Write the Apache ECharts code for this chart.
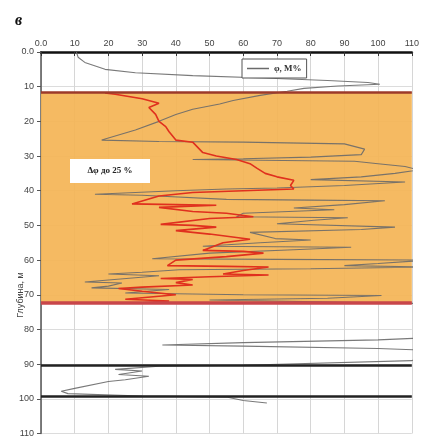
<!DOCTYPE html>
<html><head><meta charset="utf-8">
<script src="https://cdn.jsdelivr.net/npm/echarts@6/dist/echarts.min.js"></script>
<style>html,body{margin:0;padding:0;background:#fff}#c{width:422px;height:438px}</style>
</head><body><div id="c"></div>
<script>
// ---- data ----
const xTicks = [0,10,20,30,40,50,60,70,80,90,100,110];
const yTicks = [0,10,20,30,40,50,60,70,80,90,100,110];
const legendName = 'φ, М%';
const noteText = 'Δφ до 25 %';
const panelLetter = 'в';
const yName = 'Глубина, м';
const bandDepths = [11.6, 72.3];
const markerDepths = [90.4, 99.4];

const phiValues = [10.5,11,13,19,28,45,66,85,97,100.5,88,78,73,
 65,57,53,45,40,35,28,18,35,60,90,96,95,80,60,45,65,93,100,108,112,105,95,80,108,90,70,55,40,16,30,55,80,102,90,75,87,60,58,91,81,70,105,95,62,69.5,80,65,48,92,75,50,33,70,115,100,90,115,80,41,30,20,35,13,24,20,15,38,25,60,101,85,50,112,
 120,112,100,60,36,60,100,115,115,110,60,35,22,30,23,32,25,20,10,6,8,30,55,60,67];
const phiDepths = [0,1.5,3,5,6,6.8,7.5,8.2,8.8,9.3,9.8,10.5,11.3,
 12.5,14,15,16.5,18,20,22.5,25.4,25.8,26,26.5,28,29.6,30.3,30.8,31,31.2,31.5,32.2,33,34,35,36,36.8,37.5,38.5,39.2,39.5,40,41,41.3,42.5,42.7,42.9,44,45,45.5,46.5,47.5,47.8,48.5,49.5,50.5,51.2,52,53.8,54.2,55,56,56.3,57,58,59.6,59.8,60,61,61.6,62,62.5,62.8,63.5,64,64.5,66.3,66.6,67.5,68,68.5,69.5,70,70.2,71,71.5,72.5,
 80,82.5,83,83.8,84.5,84.8,85.5,86,87,89,90.3,90.6,91.5,92,93,93.5,94.5,95,97,97.8,98.5,99.2,99.5,100.5,101.2];

const redValues = [19,22,30,35,32,34,35,37,38,40,45,48,52,58,62,64,66.5,70,75,74,75,60,45,35,27,40,52,35,45,55,63,50,35.5,45,52,40,50,58,62,54,48,60,66,55,40,37.5,55,67.5,60,54,67.5,50,35.5,45,40,45,30,23,30,40,25,38,30];
const redDepths = [11.8,12.2,13.5,14.8,16,18,20,21.5,23,25.4,26,29,30,31,32.2,33.5,35,36,37,38.5,39.5,40,40.5,41.5,43.8,44,44.2,44.8,46,46.5,47.5,48,49.7,50,50.5,51.5,52.5,53.5,54,55,57.2,57.5,58,59,60,61.6,61.8,62,63,64,64.3,64.8,65.3,65.6,66.5,67.2,67.8,68.2,69,70,71.3,71.8,72.3];

const phiData = phiValues.map((v,i)=>[v, phiDepths[i]]);
const redData = redValues.map((v,i)=>[v, redDepths[i]]);

const chart = echarts.init(document.getElementById('c'));
const lbl = {fontSize:9, color:'#444', fontFamily:'Liberation Sans'};
chart.setOption({
  animation:false,
  grid:{left:41,right:3,top:52,bottom:-3,containLabel:false},
  legend:{data:[legendName], left:242, top:59, padding:[5,5], itemWidth:22, itemHeight:1.5, icon:'rect',
    backgroundColor:'#fff', borderColor:'#555', borderWidth:1, borderRadius:0,
    textStyle:{fontSize:9, fontWeight:'bold', color:'#333', fontFamily:'Liberation Serif'}},
  xAxis:{type:'value', position:'top', min:0, max:110, interval:10,
    axisLine:{lineStyle:{color:'#111', width:2.5}},
    axisTick:{inside:true, length:4, lineStyle:{color:'#333'}},
    axisLabel:Object.assign({margin:4, formatter:v=> v===0?'0.0':String(v)}, lbl),
    splitLine:{show:true, lineStyle:{color:'#d6d6d6', width:1}}},
  yAxis:{type:'value', inverse:true, min:0, max:110, interval:10,
    axisLine:{show:true, lineStyle:{color:'#555', width:1.5}},
    axisTick:{show:true, length:4, lineStyle:{color:'#555'}},
    axisLabel:Object.assign({margin:7, formatter:v=> v===0?'0.0':String(v)}, lbl),
    splitLine:{show:true, lineStyle:{color:'#dcdcdc', width:1}}},
  graphic:[
    {type:'text', left:15, top:13, style:{text:panelLetter, font:'italic bold 16px "Liberation Serif"', fill:'#111'}},
    {type:'text', x:21, y:295, rotation:Math.PI/2, style:{text:yName, font:'9px "Liberation Sans"', fill:'#444', align:'center', verticalAlign:'middle'}},
    {type:'rect', left:70, top:159, z:100, zlevel:1, shape:{width:80,height:24}, style:{fill:'#fff'}},
    {type:'text', x:110, y:171, z:101, zlevel:1, style:{text:noteText, font:'bold 9px "Liberation Serif"', fill:'#222', align:'center', verticalAlign:'middle'}}
  ],
  series:[
    {name:'band', type:'line', data:[], z:1, silent:true,
      markArea:{silent:true, itemStyle:{color:'#F4B556', opacity:0.93},
        data:[[{yAxis:bandDepths[0]},{yAxis:bandDepths[1]}]]},
      markLine:{silent:true, symbol:'none', label:{show:false},
        data:[
          {yAxis:bandDepths[0], lineStyle:{color:'#9c3a2a', width:2.5, type:'solid'}},
          {yAxis:bandDepths[1], lineStyle:{color:'#c8464a', width:3.5, type:'solid'}},
          {yAxis:markerDepths[0], lineStyle:{color:'#222', width:2.5, type:'solid'}},
          {yAxis:markerDepths[1], lineStyle:{color:'#222', width:2.5, type:'solid'}}
        ]}},
    {name:legendName, type:'line', data:phiData, symbol:'none', z:3,
      lineStyle:{color:'#6a6a6a', width:1.1, opacity:0.9}, itemStyle:{color:'#6a6a6a'}},
    {name:'red', type:'line', data:redData, symbol:'none', z:4,
      lineStyle:{color:'#e0301e', width:1.6}}
  ]
});
</script></body></html>
